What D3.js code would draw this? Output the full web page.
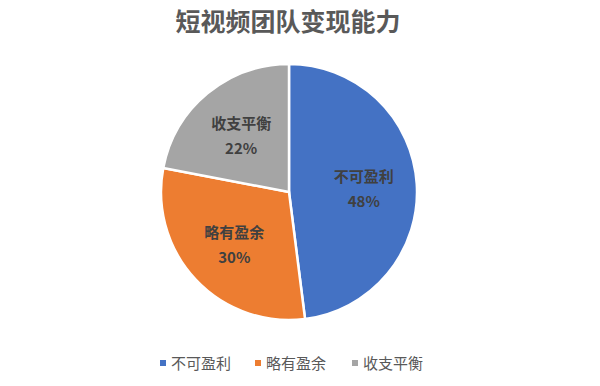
<!DOCTYPE html>
<html><head><meta charset="utf-8">
<script src="https://cdn.jsdelivr.net/npm/d3@7/dist/d3.min.js"></script>
<style>body{margin:0;background:#fff;}svg{display:block;font-family:"Noto Sans CJK SC","Noto Sans",sans-serif;}</style>
</head><body>
<svg id="c" width="600" height="386"></svg>
<script>
const title = "短视频团队变现能力";
const categories = ["不可盈利", "略有盈余", "收支平衡"];
const values = [48, 30, 22];
const colors = ["#4472C4", "#ED7D31", "#A5A5A5"];

const svg = d3.select("#c");
const cx = 289, cy = 192, R = 128;

svg.append("text").attr("x", 288).attr("y", 31).attr("text-anchor", "middle")
  .attr("font-size", 25).attr("font-weight", "bold").attr("fill", "#595959").text(title);

const data = categories.map((c, i) => ({cat: c, v: values[i], col: colors[i]}));
const pie = d3.pie().value(d => d.v).sort(null);
const arcs = pie(data);
const arc = d3.arc().innerRadius(0).outerRadius(R);
const labelArc = d3.arc().innerRadius(75).outerRadius(75);

const g = svg.append("g").attr("transform", `translate(${cx},${cy})`);
g.selectAll("path").data(arcs).join("path")
  .attr("d", arc).attr("fill", d => d.data.col)
  .attr("stroke", "#fff").attr("stroke-width", 2.5);

const lab = g.selectAll("text.lab").data(arcs).join("text").attr("class", "lab")
  .attr("transform", d => `translate(${labelArc.centroid(d)})`)
  .attr("text-anchor", "middle").attr("font-size", 15).attr("font-weight", "bold").attr("fill", "#404040");
lab.append("tspan").attr("x", 0).attr("dy", "-0.35em").text(d => d.data.cat);
lab.append("tspan").attr("x", 0).attr("dy", "1.65em").text(d => d.data.v + "%");

const legX = [163, 258, 355];
const leg = svg.append("g");
data.forEach((d, i) => {
  leg.append("rect").attr("x", legX[i] - 3).attr("y", 360).attr("width", 6).attr("height", 6).attr("fill", d.col);
  leg.append("text").attr("x", legX[i] + 8).attr("y", 368.5).attr("font-size", 15).attr("fill", "#595959").text(d.cat);
});
</script>
</body></html>
